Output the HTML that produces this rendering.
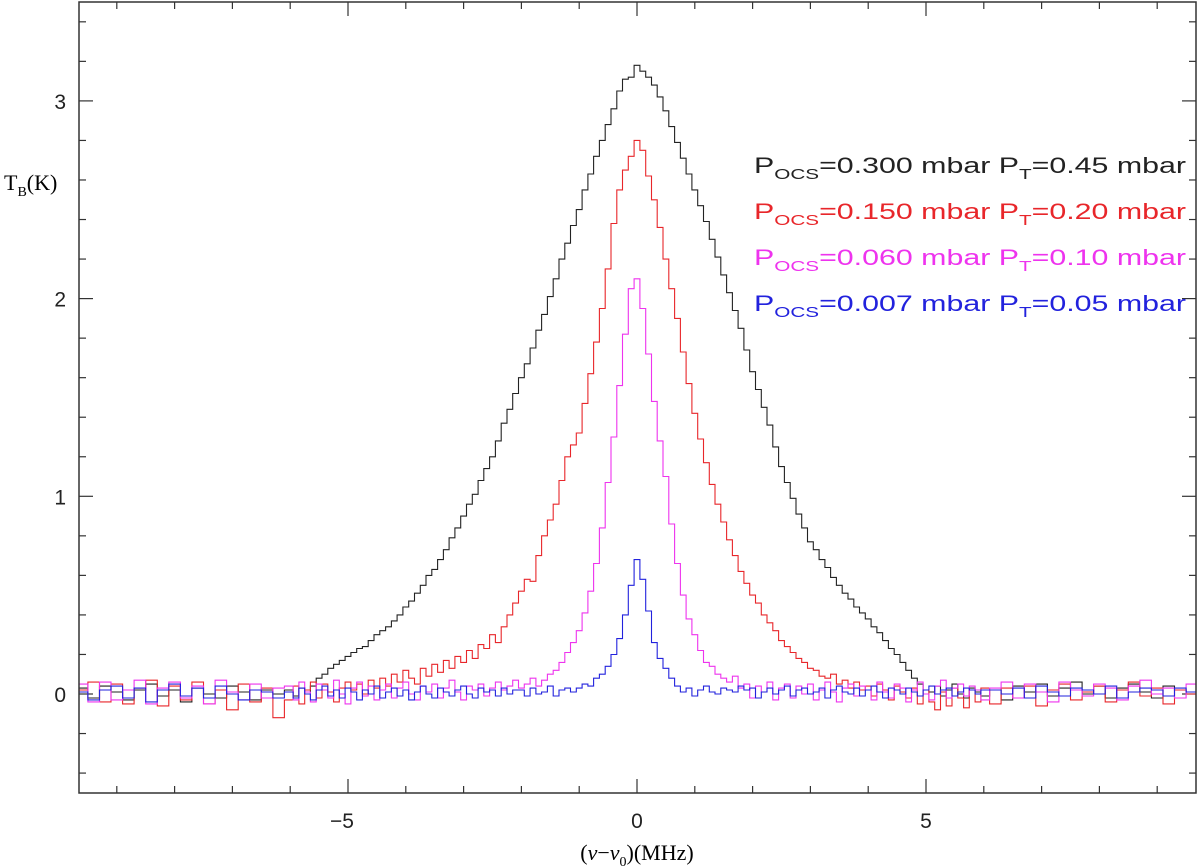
<!DOCTYPE html>
<html><head><meta charset="utf-8"><style>
html,body{margin:0;padding:0;background:#fff;}
svg{display:block;}
text{font-family:"Liberation Sans",sans-serif;}
.serif{font-family:"Liberation Serif",serif;}
</style></head><body>
<svg id="chart" width="1200" height="868" viewBox="0 0 1200 868">
<g id="ticks"></g>
<g id="series"></g>
<rect x="79" y="2" width="1117" height="791" fill="none" stroke="#333" stroke-width="1.5"/>
<text x="4" y="190" font-size="22" class="serif">T<tspan font-size="14" dy="6">B</tspan><tspan dy="-6">(K)</tspan></text>
<text x="637" y="860" font-size="22" text-anchor="middle" class="serif">(<tspan font-style="italic">ν</tspan>−<tspan font-style="italic">ν</tspan><tspan font-size="14" dy="6">0</tspan><tspan dy="-6">)(MHz)</tspan></text>
<g id="legend" font-size="22"></g>
</svg>
<script>
// ---- data ----
const leftWingFreq = [-9.6,-9.4,-9.2,-9.0,-8.8,-8.6,-8.4,-8.2,-8.0,-7.8,-7.6,-7.4,-7.2,-7.0,-6.8,-6.6,-6.4,-6.2];
const rightWingFreq = [6.2,6.4,6.6,6.8,7.0,7.2,7.4,7.6,7.8,8.0,8.2,8.4,8.6,8.8,9.0,9.2,9.4,9.6];
const coreFreq = [];
for (let i = -60; i <= 60; i++) coreFreq.push(i / 10);
const freqs = leftWingFreq.concat(coreFreq, rightWingFreq);

const blackValues = [0.03,-0.02,0.04,0.01,-0.03,0.02,0.05,-0.01,0.02,-0.04,0.03,0.00,-0.02,0.04,0.01,-0.03,0.02,0.00,
0.02,-0.01,0.03,0.01,0.04,0.08,0.10,0.13,0.15,0.17,0.19,0.21,0.23,0.24,0.27,0.30,0.32,0.34,0.37,0.40,
0.44,0.47,0.51,0.55,0.60,0.63,0.68,0.73,0.79,0.84,0.90,0.96,1.01,1.08,1.14,1.20,1.28,1.37,1.44,1.52,
1.60,1.67,1.75,1.84,1.92,2.01,2.10,2.20,2.28,2.37,2.45,2.55,2.63,2.72,2.80,2.88,2.96,3.05,3.11,3.12,
3.18,3.15,3.12,3.08,3.02,2.95,2.87,2.79,2.71,2.63,2.55,2.47,2.39,2.30,2.21,2.12,2.03,1.94,1.85,1.74,
1.63,1.54,1.45,1.36,1.25,1.15,1.07,0.99,0.91,0.84,0.77,0.73,0.68,0.64,0.59,0.55,0.51,0.48,0.44,0.41,
0.38,0.34,0.31,0.27,0.23,0.20,0.16,0.12,0.08,0.05,0.02,0.01,0.04,-0.01,0.02,0.05,0.00,-0.02,0.03,0.01,-0.01,
0.02,-0.03,0.04,0.01,0.05,-0.01,0.03,0.06,0.00,0.04,-0.02,0.03,0.05,0.01,-0.02,0.04,0.02,0.00];

const redValues = [0.02,0.06,-0.04,0.05,-0.05,0.03,0.07,-0.06,0.04,-0.03,0.06,-0.05,0.02,-0.08,0.05,-0.04,0.03,-0.12,
-0.03,0.04,-0.05,0.02,0.06,-0.02,0.05,0.01,-0.04,0.03,0.06,0.02,0.05,0.00,0.07,0.03,0.08,0.04,0.10,0.06,
0.12,0.08,0.05,0.13,0.09,0.15,0.11,0.17,0.13,0.19,0.16,0.22,0.18,0.25,0.23,0.30,0.26,0.34,0.40,0.46,
0.52,0.58,0.57,0.70,0.80,0.88,0.96,1.08,1.20,1.26,1.32,1.47,1.62,1.78,1.95,2.15,2.38,2.55,2.65,2.72,
2.80,2.75,2.62,2.50,2.36,2.20,2.05,1.90,1.73,1.57,1.42,1.29,1.17,1.06,0.96,0.87,0.78,0.70,0.62,0.56,
0.50,0.46,0.40,0.36,0.32,0.27,0.24,0.21,0.18,0.16,0.13,0.12,0.09,0.08,0.10,0.05,0.07,0.03,0.06,0.02,
0.04,-0.01,0.05,0.02,-0.03,0.04,0.01,-0.02,0.03,-0.05,0.02,-0.04,-0.08,0.01,-0.06,0.03,-0.02,-0.07,0.02,-0.04,0.03,
-0.05,0.03,-0.02,0.04,-0.06,0.02,0.05,-0.03,0.01,0.04,-0.04,0.02,0.06,-0.01,0.03,-0.05,0.02,0.00];

const magentaValues = [0.05,-0.04,0.06,-0.03,0.02,0.07,-0.05,0.03,0.06,-0.02,0.04,-0.05,0.07,0.01,-0.03,0.05,-0.02,0.03,
0.04,-0.03,0.06,0.01,-0.04,0.05,0.02,-0.02,0.07,0.00,-0.05,0.03,0.06,-0.01,0.04,-0.03,0.02,0.05,-0.02,0.03,
0.06,0.00,-0.03,0.04,0.01,0.05,-0.02,0.03,0.07,0.01,-0.03,0.04,0.02,0.05,-0.01,0.03,0.06,0.02,0.04,0.07,
0.03,0.05,0.08,0.04,0.07,0.10,0.12,0.16,0.21,0.26,0.32,0.41,0.52,0.66,0.84,1.07,1.30,1.56,1.82,2.05,
2.10,1.95,1.72,1.48,1.28,1.10,0.86,0.66,0.50,0.38,0.30,0.22,0.16,0.14,0.10,0.08,0.06,0.09,0.03,0.05,
-0.02,0.04,0.01,0.06,-0.03,0.03,0.05,-0.02,0.04,0.00,0.05,-0.03,0.02,0.06,0.01,-0.04,0.03,0.05,-0.01,0.04,
0.02,-0.03,0.06,0.01,-0.02,0.05,0.03,-0.04,0.02,0.06,0.00,-0.03,0.04,0.07,-0.02,0.03,0.05,-0.01,0.04,0.02,-0.03,
0.03,0.06,-0.02,0.05,0.01,-0.04,0.06,0.02,-0.01,0.05,0.03,-0.03,0.04,0.07,0.00,0.03,-0.02,0.05];

const blueValues = [0.01,-0.03,0.02,0.04,-0.02,0.03,-0.04,0.02,0.05,-0.01,0.03,-0.02,0.04,0.00,-0.03,0.02,0.01,-0.02,
0.01,-0.02,0.03,0.00,-0.03,0.02,0.04,-0.01,0.02,-0.02,0.03,0.01,-0.03,0.02,0.00,0.04,-0.02,0.01,0.03,-0.01,
0.02,-0.03,0.01,0.04,0.00,-0.02,0.03,0.01,-0.01,0.02,0.04,0.00,-0.02,0.03,0.01,0.02,-0.01,0.03,0.00,0.02,
0.02,-0.01,0.03,0.00,0.01,0.04,-0.01,0.02,0.03,0.01,
0.03,0.05,0.04,0.08,0.10,0.14,0.20,0.28,0.40,0.55,
0.68,0.58,0.42,0.26,0.18,0.13,0.08,0.04,0.01,0.03,-0.01,
0.02,0.04,0.01,0.00,0.03,0.02,0.01,0.04,0.02,0.03,-0.02,0.01,0.03,0.00,0.02,0.04,-0.01,0.02,0.03,0.00,
0.01,0.03,-0.02,0.02,0.04,0.01,0.00,0.03,-0.01,0.02,0.04,0.01,-0.02,0.03,0.02,0.00,0.03,0.01,-0.01,0.02,
0.04,0.00,0.02,0.03,-0.01,0.01,0.03,0.02,0.00,0.02,
0.02,0.00,0.03,-0.02,0.04,0.01,-0.01,0.03,0.02,0.00,0.04,-0.02,0.01,0.03,0.02,-0.01,0.03,0.01];

const seriesNames = ['series-pocs-0300','series-pocs-0150','series-pocs-0060','series-pocs-0007'];
const seriesColors = ['#222','#e8262a','#ee33ee','#2222dd'];
const seriesData = [blackValues, redValues, magentaValues, blueValues];
const xTickLabels = ['−5','0','5'];
const xTickValues = [-5,0,5];
const yTickValues = [0,1,2,3];
const legendOcs = ['0.300','0.150','0.060','0.007'];
const legendT = ['0.45','0.20','0.10','0.05'];

// ---- axes ----
const X0 = 637, XS = 57.8, Y0 = 694, YS = 197.7;
const xs = v => X0 + v * XS;
const ys = v => Y0 - v * YS;
const NS = 'http://www.w3.org/2000/svg';
function mk(tag, attrs, parent) { const e = document.createElementNS(NS, tag); for (const k in attrs) e.setAttribute(k, attrs[k]); parent.appendChild(e); return e; }

const tg = document.getElementById('ticks');
for (let v = -9; v <= 9; v++) {
  const L = (v % 5 === 0) ? 14 : 7;
  const b = mk('line', {x1: xs(v), x2: xs(v), y1: 793, y2: 793 - L, stroke: '#333', 'stroke-width': 1.2}, tg);
  
  
  const t = mk('line', {x1: xs(v), x2: xs(v), y1: 2, y2: 2 + L, stroke: '#333', 'stroke-width': 1.2}, tg);
  
  
}
for (let k = -2; k <= 17; k++) {
  const v = k * 0.2;
  const L = (k % 5 === 0) ? 14 : 7;
  const l = mk('line', {x1: 79, x2: 79 + L, y1: ys(v), y2: ys(v), stroke: '#333', 'stroke-width': 1.2}, tg);
  
  
  const r = mk('line', {x1: 1196, x2: 1196 - L, y1: ys(v), y2: ys(v), stroke: '#333', 'stroke-width': 1.2}, tg);
  
  
}
xTickValues.forEach((v, i) => {
  const t = mk('text', {x: xs(v) - (i === 0 ? 6 : 0), y: 828, 'font-size': 21, 'text-anchor': 'middle', fill: '#222'}, tg);
  t.textContent = xTickLabels[i];
  
  
});
yTickValues.forEach(v => {
  const t = mk('text', {x: 66, y: ys(v) + 8, 'font-size': 21, 'text-anchor': 'end', fill: '#222'}, tg);
  t.textContent = String(v);
  
  
});

// ---- series (histogram steps) ----
const sg = document.getElementById('series');
[0, 1, 2, 3].forEach(si => {
  const vals = seriesData[si];
  let d = '';
  for (let i = 0; i < freqs.length; i++) {
    const lo = i === 0 ? freqs[0] - (freqs[1] - freqs[0]) / 2 : (freqs[i - 1] + freqs[i]) / 2;
    const hi = i === freqs.length - 1 ? freqs[i] + (freqs[i] - freqs[i - 1]) / 2 : (freqs[i] + freqs[i + 1]) / 2;
    const x1 = Math.max(79, xs(lo)), x2 = Math.min(1196, xs(hi)), y = ys(vals[i]);
    d += (i === 0 ? 'M' : 'L') + x1.toFixed(1) + ',' + y.toFixed(1) + 'L' + x2.toFixed(1) + ',' + y.toFixed(1);
  }
  const p = mk('path', {d: d, fill: 'none', stroke: seriesColors[si], 'stroke-width': 1.1}, sg);
  
  
});

// ---- legend ----
const lg = document.getElementById('legend');
legendOcs.forEach((v, i) => {
  const t = mk('text', {x: 754, y: 173 + i * 46, fill: seriesColors[i], textLength: 432, lengthAdjust: 'spacingAndGlyphs'}, lg);
  t.innerHTML = 'P<tspan font-size="15" dy="6">OCS</tspan><tspan dy="-6">=' + v + ' mbar P</tspan><tspan font-size="15" dy="6">T</tspan><tspan dy="-6">=' + legendT[i] + ' mbar</tspan>';
  
  
});
</script>
</body></html>
